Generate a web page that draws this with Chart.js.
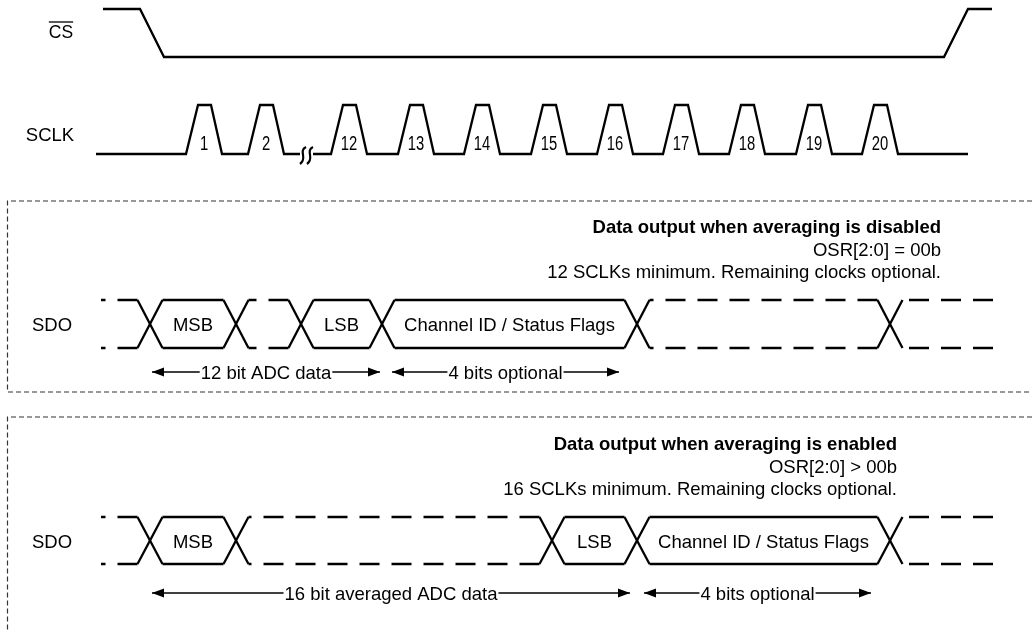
<!DOCTYPE html>
<html>
<head>
<meta charset="utf-8">
<script src="https://cdn.jsdelivr.net/npm/chart.js@4.4.1/dist/chart.umd.min.js"></script>
<style>
html, body { margin: 0; padding: 0; background: #fff; }
#wrap { width: 1032px; height: 632px; }
</style>
</head>
<body>
<div id="wrap"><canvas id="timing" width="1032" height="632"></canvas></div>
<script>
// time axis runs 0..1032 drawing units, each lane sits at its own place on y

// CS (active low): edge times and levels
const csTimes  = [103, 140, 164, 944, 968, 992];
const csLevels = [1, 1, 0, 0, 1, 1];

// SCLK: rising edge start of every drawn clock
const sclkStart   = 96;
const sclkEnd     = 968;
const sclkRise    = [186, 248, 331, 398, 464, 531, 597, 663, 729, 796, 862];
const sclkNumbers = ['1', '2', '12', '13', '14', '15', '16', '17', '18', '19', '20'];
const sclkBreak   = [303, 310];

// SDO when averaging is disabled
const sdo1Cross     = [150, 236, 301, 382, 637, 890];
const sdo1Cells     = ['', 'MSB', '', 'LSB', 'Channel ID / Status Flags', '', ''];
const sdo1Arrows    = [[152, 380], [392, 619]];
const sdo1ArrowText = ['12 bit ADC data', '4 bits optional'];
const sdo1Notes     = ['Data output when averaging is disabled', 'OSR[2:0] = 00b',
                       '12 SCLKs minimum. Remaining clocks optional.'];

// SDO when averaging is enabled
const sdo2Cross     = [150, 236, 552, 637, 890];
const sdo2Cells     = ['', 'MSB', '', 'LSB', 'Channel ID / Status Flags', ''];
const sdo2Arrows    = [[152, 630], [644, 871]];
const sdo2ArrowText = ['16 bit averaged ADC data', '4 bits optional'];
const sdo2Notes     = ['Data output when averaging is enabled', 'OSR[2:0] > 00b',
                       '16 SCLKs minimum. Remaining clocks optional.'];

const sdoStart = 101;
const sdoEnd   = 993;

// layout (not data)
const FONT = '"Liberation Sans", Arial, Helvetica, sans-serif';
const TY = 1.5; // baseline nudge so caps sit centred
const layout = {
  hw: 12.5,
  pulse: [12, 25, 36],
  cs:   { hi: 9,   lo: 57,  labelX: 61, labelY: 32 },
  sclk: { hi: 105, lo: 154, labelX: 50, labelY: 134, numY: 143 },
  sdo: [
    { hi: 300, lo: 348, mid: 324, arrowY: 372, notesRight: 941, notesY: [226, 249, 271] },
    { hi: 517, lo: 564, mid: 541, arrowY: 593, notesRight: 897, notesY: [443, 466, 488] }
  ],
  frameX: 7.5,
  frames: [[201, 392], [417, 640]]
};

const measureCtx = document.createElement('canvas').getContext('2d');
function textWidth(str, font) {
  measureCtx.font = font;
  return measureCtx.measureText(str).width;
}

function line(points, extra) {
  return Object.assign({
    data: points,
    showLine: true,
    borderColor: '#000',
    borderWidth: 2.3,
    pointRadius: 0,
    pointHoverRadius: 0,
    borderCapStyle: 'butt',
    borderJoinStyle: 'miter',
    spanGaps: false
  }, extra || {});
}

const datasets = [];

// CS
datasets.push(line(csTimes.map((t, i) => ({ x: t, y: csLevels[i] ? layout.cs.hi : layout.cs.lo }))));

// SCLK
(function () {
  const s = layout.sclk, p = layout.pulse;
  const pts = [{ x: sclkStart, y: s.lo }];
  sclkRise.forEach((r, i) => {
    if (i === 2) {
      // clocks 3..11 skipped
      pts.push({ x: sclkBreak[0] - 3, y: s.lo });
      pts.push({ x: sclkBreak[0], y: null });
      pts.push({ x: sclkBreak[1] + 3, y: s.lo });
    }
    pts.push({ x: r, y: s.lo }, { x: r + p[0], y: s.hi }, { x: r + p[1], y: s.hi }, { x: r + p[2], y: s.lo });
  });
  pts.push({ x: sclkEnd, y: s.lo });
  datasets.push(line(pts));
})();

// SDO rows
function buildSdo(cross, cells, lane) {
  const hw = layout.hw;
  cross.forEach(c => {
    datasets.push(line([{ x: c - hw, y: lane.hi }, { x: c + hw, y: lane.lo }]));
    datasets.push(line([{ x: c - hw, y: lane.lo }, { x: c + hw, y: lane.hi }]));
  });
  cells.forEach((txt, i) => {
    const L = i === 0 ? sdoStart : cross[i - 1] + hw;
    const R = i === cross.length ? sdoEnd : cross[i] - hw;
    [lane.hi, lane.lo].forEach(yv => {
      if (txt) {
        datasets.push(line([{ x: L, y: yv }, { x: R, y: yv }]));
      } else {
        // dash pattern anchored on the right end
        datasets.push(line([{ x: R, y: yv }, { x: L, y: yv }], { borderDash: [20, 12] }));
      }
    });
  });
}
buildSdo(sdo1Cross, sdo1Cells, layout.sdo[0]);
buildSdo(sdo2Cross, sdo2Cells, layout.sdo[1]);

// dimension arrows (line broken round the text)
const ARROW_FONT = '18.5px ' + FONT;
function buildArrows(arrows, texts, lane) {
  arrows.forEach((a, i) => {
    const w = textWidth(texts[i], ARROW_FONT);
    const mid = (a[0] + a[1]) / 2;
    datasets.push(line([{ x: a[0], y: lane.arrowY }, { x: mid - w / 2 - 1, y: lane.arrowY }], { borderWidth: 1.4 }));
    datasets.push(line([{ x: mid + w / 2 + 1, y: lane.arrowY }, { x: a[1], y: lane.arrowY }], { borderWidth: 1.4 }));
  });
}
buildArrows(sdo1Arrows, sdo1ArrowText, layout.sdo[0]);
buildArrows(sdo2Arrows, sdo2ArrowText, layout.sdo[1]);

// dashed frames
layout.frames.forEach(f => {
  datasets.push(line([{ x: 1032, y: f[0] }, { x: layout.frameX, y: f[0] }, { x: layout.frameX, y: f[1] }, { x: 1032, y: f[1] }],
    { borderWidth: 1.2, borderColor: '#333', borderDash: [5, 3] }));
});

const timingText = {
  id: 'timingText',
  afterDatasetsDraw(chart) {
    const { ctx, scales: { x, y } } = chart;
    const px = v => x.getPixelForValue(v);
    const py = v => y.getPixelForValue(v);
    ctx.save();
    ctx.fillStyle = '#000';
    ctx.strokeStyle = '#000';
    ctx.textBaseline = 'middle';

    // CS with bar
    ctx.font = '17.5px ' + FONT;
    ctx.textAlign = 'center';
    const cs = layout.cs;
    ctx.fillText('CS', px(cs.labelX), py(cs.labelY + TY));
    const csW = ctx.measureText('CS').width;
    ctx.lineWidth = 1.3;
    ctx.beginPath();
    ctx.moveTo(px(cs.labelX) - csW / 2, py(cs.labelY - 10));
    ctx.lineTo(px(cs.labelX) + csW / 2, py(cs.labelY - 10));
    ctx.stroke();

    ctx.font = '18.5px ' + FONT;
    ctx.fillText('SCLK', px(layout.sclk.labelX), py(layout.sclk.labelY + TY));
    layout.sdo.forEach(l => ctx.fillText('SDO', px(52), py(l.mid + TY)));

    // clock numbers (narrow digits)
    ctx.font = '19.5px ' + FONT;
    sclkRise.forEach((r, i) => {
      const w = ctx.measureText(sclkNumbers[i]).width * 0.76;
      const cx = r + Math.max(18, 6.5 + w / 2);
      ctx.save();
      ctx.translate(px(cx), py(layout.sclk.numY + TY));
      ctx.scale(0.76, 1);
      ctx.fillText(sclkNumbers[i], 0, 0);
      ctx.restore();
    });

    // skipped-clock squiggles
    ctx.lineWidth = 2.2;
    sclkBreak.forEach(b => {
      const ly = layout.sclk.lo;
      ctx.beginPath();
      ctx.moveTo(px(b + 3), py(ly - 7));
      ctx.bezierCurveTo(px(b - 5), py(ly - 3), px(b + 5), py(ly + 4), px(b - 3), py(ly + 10));
      ctx.stroke();
    });

    // cell labels
    ctx.font = '18.5px ' + FONT;
    [[sdo1Cross, sdo1Cells, layout.sdo[0]], [sdo2Cross, sdo2Cells, layout.sdo[1]]].forEach(([cr, cells, l]) => {
      cells.forEach((txt, i) => {
        if (!txt || i === 0 || i === cr.length) return;
        ctx.fillText(txt, px((cr[i - 1] + cr[i]) / 2), py(l.mid + TY));
      });
    });

    // arrow heads and texts
    [[sdo1Arrows, sdo1ArrowText, layout.sdo[0]], [sdo2Arrows, sdo2ArrowText, layout.sdo[1]]].forEach(([arr, txt, l]) => {
      arr.forEach((a, i) => {
        const yy = py(l.arrowY);
        ctx.fillText(txt[i], px((a[0] + a[1]) / 2), py(l.arrowY + TY));
        [[a[0], 1], [a[1], -1]].forEach(([tip, dir]) => {
          ctx.beginPath();
          ctx.moveTo(px(tip), yy);
          ctx.lineTo(px(tip + dir * 12), yy - 4.5);
          ctx.lineTo(px(tip + dir * 12), yy + 4.5);
          ctx.closePath();
          ctx.fill();
        });
      });
    });

    // notes
    ctx.textAlign = 'right';
    [[sdo1Notes, layout.sdo[0]], [sdo2Notes, layout.sdo[1]]].forEach(([notes, l]) => {
      notes.forEach((n, i) => {
        ctx.font = (i === 0 ? 'bold ' : '') + '18.5px ' + FONT;
        ctx.fillText(n, px(l.notesRight), py(l.notesY[i] + TY));
      });
    });
    ctx.restore();
  }
};

new Chart(document.getElementById('timing').getContext('2d'), {
  type: 'scatter',
  data: { datasets: datasets },
  options: {
    responsive: false,
    animation: false,
    events: [],
    layout: { padding: 0 },
    plugins: { legend: { display: false }, tooltip: { enabled: false } },
    scales: {
      x: { type: 'linear', min: 0, max: 1032, display: false },
      y: { type: 'linear', min: 0, max: 632, reverse: true, display: false }
    }
  },
  plugins: [timingText]
});
</script>
</body>
</html>
